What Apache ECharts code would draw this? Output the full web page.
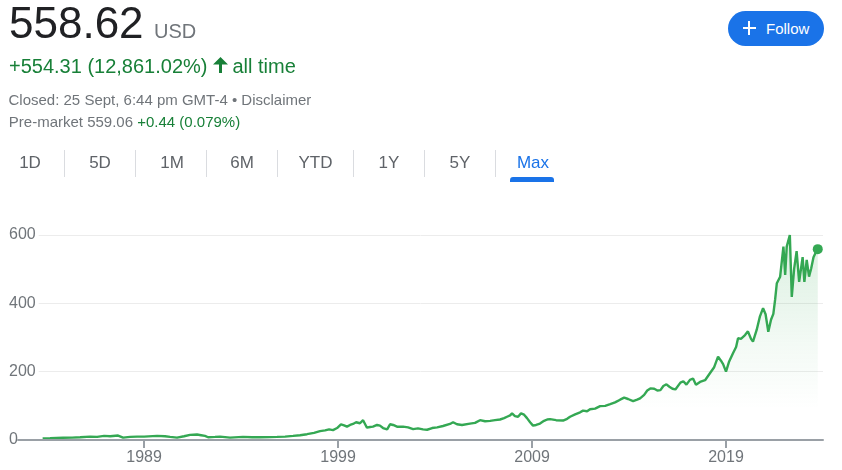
<!DOCTYPE html>
<html>
<head>
<meta charset="utf-8">
<script src="https://cdn.jsdelivr.net/npm/echarts@6/dist/echarts.min.js"></script>
<style>
html,body{margin:0;padding:0;background:#fff;}
body{width:842px;height:470px;position:relative;overflow:hidden;font-family:Arial,"Liberation Sans",sans-serif;}
#chart{position:absolute;left:0;top:0;width:842px;height:470px;}
.t{position:absolute;white-space:nowrap;line-height:1;}
.tab{position:absolute;top:153.6px;width:60px;text-align:center;font-size:17px;line-height:1;color:#5f6368;}
.sep{position:absolute;top:150px;width:1px;height:27px;background:#dadce0;}
</style>
</head>
<body>
<div id="chart"></div>

<div class="t" style="left:9px;top:1px;font-size:44px;color:#202124;">558.62</div>
<div class="t" style="left:154px;top:21px;font-size:20px;color:#70757a;">USD</div>
<div class="t" style="left:9px;top:56px;font-size:20px;color:#188038;">+554.31 (12,861.02%)</div>
<svg style="position:absolute;left:213px;top:57px;" width="15" height="16" viewBox="0 0 15 16"><polygon points="7.5,0 15,7.5 9,7.5 9,16 6,16 6,7.5 0,7.5" fill="#188038"/></svg>
<div class="t" style="left:232.5px;top:56px;font-size:20px;color:#188038;">all time</div>
<div class="t" style="left:8.5px;top:92.3px;font-size:15px;color:#70757a;">Closed: 25 Sept, 6:44 pm GMT-4 • Disclaimer</div>
<div class="t" style="left:8.8px;top:113.8px;font-size:15px;color:#70757a;">Pre-market 559.06 <span style="color:#188038">+0.44 (0.079%)</span></div>

<div class="tab" style="left:0px;">1D</div>
<div class="sep" style="left:64px;"></div>
<div class="tab" style="left:70px;">5D</div>
<div class="sep" style="left:135px;"></div>
<div class="tab" style="left:142px;">1M</div>
<div class="sep" style="left:206px;"></div>
<div class="tab" style="left:212px;">6M</div>
<div class="sep" style="left:277px;"></div>
<div class="tab" style="left:285.5px;">YTD</div>
<div class="sep" style="left:353px;"></div>
<div class="tab" style="left:359px;">1Y</div>
<div class="sep" style="left:424px;"></div>
<div class="tab" style="left:430px;">5Y</div>
<div class="sep" style="left:495px;"></div>
<div class="tab" style="left:503px;color:#1a73e8;">Max</div>
<div style="position:absolute;left:510px;top:177px;width:44px;height:5px;background:#1a73e8;border-radius:3px 3px 0 0;"></div>

<div style="position:absolute;left:728px;top:11px;width:96px;height:35px;border-radius:17.5px;background:#1a73e8;"></div>
<div style="position:absolute;left:742.5px;top:27px;width:13.5px;height:2px;background:#fff;"></div>
<div style="position:absolute;left:748.3px;top:21.2px;width:2px;height:13.5px;background:#fff;"></div>
<div class="t" style="left:766px;top:20.6px;font-size:15px;color:#fff;">Follow</div>

<script>
// Decimal years and closing prices (USD)
const years = [
  1983.77,1984.15,1984.82,1985.29,1985.70,1986.22,1986.58,1986.94,1987.25,1987.66,
  1987.92,1988.28,1988.64,1989.00,1989.67,1990.08,1990.34,1990.70,1991.06,1991.37,
  1991.73,1991.94,1992.14,1992.30,1992.66,1992.92,1993.43,1994.10,1994.57,1994.98,
  1995.49,1995.86,1996.27,1996.68,1997.04,1997.40,1997.76,1998.07,1998.33,1998.54,
  1998.74,1998.95,1999.15,1999.31,1999.46,1999.62,1999.77,1999.93,2000.03,2000.13,
  2000.29,2000.39,2000.49,2000.65,2000.80,2001.01,2001.16,2001.32,2001.53,2001.68,
  2001.84,2002.04,2002.35,2002.61,2002.87,2003.12,2003.38,2003.59,2003.85,2004.11,
  2004.41,2004.77,2004.93,2005.13,2005.39,2005.80,2006.06,2006.32,2006.58,2006.84,
  2007.09,2007.35,2007.56,2007.71,2007.87,2007.97,2008.12,2008.28,2008.43,2008.59,
  2008.74,2008.90,2009.05,2009.21,2009.41,2009.62,2009.78,2009.93,2010.24,2010.60,
  2010.81,2010.96,2011.22,2011.48,2011.63,2011.84,2011.99,2012.25,2012.51,2012.77,
  2013.03,2013.28,2013.54,2013.75,2013.95,2014.21,2014.42,2014.57,2014.78,2014.94,
  2015.10,2015.30,2015.46,2015.62,2015.77,2015.93,2016.08,2016.24,2016.39,2016.49,
  2016.65,2016.80,2016.96,2017.14,2017.30,2017.45,2017.66,2017.92,2018.18,2018.38,
  2018.59,2018.74,2018.85,2019.00,2019.15,2019.36,2019.52,2019.62,2019.77,2019.98,
  2020.13,2020.29,2020.39,2020.58,2020.75,2020.91,2021.04,2021.18,2021.32,2021.44,
  2021.53,2021.62,2021.79,2021.96,2022.05,2022.13,2022.29,2022.39,2022.51,2022.64,
  2022.77,2022.95,2023.04,2023.16,2023.28,2023.39,2023.51,2023.62,2023.73
];
const prices = [
  4.3,5,6.5,7,8,10,9,12,11,13,
  7,9,10,10,12,11,9,7,11,15,
  16,14,12,8,9,10,7,9,8,8,
  8.5,9,10,12,14,17,21,26,28,31,
  29,35,46,43,39,44,47,52,56,49,
  58,55,36,38,39,44,42,35,31,46,
  44,39,39,37,32,34,31,30,35,37,
  41,47,52,46,44,48,50,58,55,56,
  58,60,64,68,72,78,70,68,78,74,
  64,52,42,44,48,56,60,61,58,57,
  62,68,75,81,86,84,90,92,99,100,
  105,110,118,124,120,114,118,122,132,145,
  151,150,145,146,158,163,156,150,148,146,
  168,172,162,176,180,162,170,175,196,212,
  244,232,222,200,228,254,272,298,296,307,
  318,296,288,322,362,386,368,317,352,369,
  410,459,478,566,483,566,600,419,500,553,
  463,535,463,527,478,502,535,548,558.62
];
const yTickValues = [0, 200, 400, 600];
const xTickYears = [1989, 1999, 2009, 2019];

const lineData = years.map((y, i) => [y, prices[i]]);
const lastPoint = [[years[years.length - 1], prices[prices.length - 1]]];

const chart = echarts.init(document.getElementById('chart'), null, {renderer: 'canvas'});
const fontFamily = 'Arial, "Liberation Sans", sans-serif';
chart.setOption({
  animation: false,
  grid: {left: 18, right: 19, top: 235, bottom: 30, outerBoundsMode: 'none', containLabel: false},
  xAxis: {
    type: 'value', min: 1982.5, max: 2024.0, z: 6,
    axisLine: {show: true, lineStyle: {color: '#9aa0a6', width: 2}},
    axisTick: {show: true, customValues: xTickYears, length: 8, lineStyle: {color: '#9aa0a6', width: 2}},
    axisLabel: {customValues: xTickYears, color: '#70757a', fontSize: 16, margin: 10, fontFamily: fontFamily,
      formatter: v => String(v)},
    splitLine: {show: false}
  },
  yAxis: [
    {
      type: 'value', min: 0, max: 600, interval: 200, z: 5, position: 'left',
      axisLine: {show: false}, axisTick: {show: false}, splitLine: {show: false},
      axisLabel: {align: 'left', margin: 9, color: '#70757a', fontSize: 16, fontFamily: fontFamily,
        backgroundColor: '#fff', padding: [0, 3, 0, 0], customValues: yTickValues}
    },
    {
      type: 'value', min: 0, max: 600, interval: 200, z: 0, position: 'right',
      axisLine: {show: false}, axisTick: {show: false}, axisLabel: {show: false},
      splitLine: {show: true, lineStyle: {color: '#ececec', width: 1}}
    }
  ],
  series: [
    {
      type: 'line', data: lineData, yAxisIndex: 0, showSymbol: false, symbol: 'none',
      lineStyle: {color: '#34a853', width: 2.4}, z: 2,
      areaStyle: {
        color: new echarts.graphic.LinearGradient(0, 0, 0, 1, [
          {offset: 0, color: 'rgba(52,168,83,0.26)'},
          {offset: 0.55, color: 'rgba(52,168,83,0.08)'},
          {offset: 0.85, color: 'rgba(52,168,83,0)'}
        ])
      }
    },
    {
      type: 'scatter', data: lastPoint, yAxisIndex: 0, symbol: 'circle', symbolSize: 10,
      itemStyle: {color: '#34a853', opacity: 1}, z: 3
    }
  ]
});
</script>
</body>
</html>
